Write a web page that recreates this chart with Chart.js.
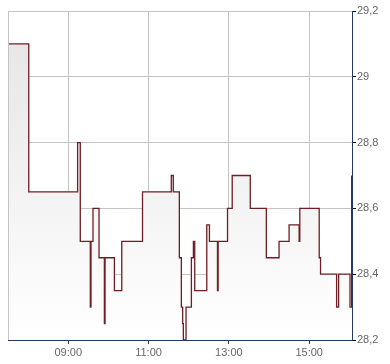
<!DOCTYPE html>
<html>
<head>
<meta charset="utf-8">
<script src="https://cdn.jsdelivr.net/npm/chart.js@4/dist/chart.umd.min.js"></script>
<style>
  html, body { margin: 0; padding: 0; background: #fff; }
  #wrap { width: 390px; height: 364px; }
</style>
</head>
<body>
<div id="wrap"><canvas id="price-chart"></canvas></div>
<script>
// Intraday quotes, time in minutes since midnight
const times = [450, 481, 554, 558, 573, 574, 577, 586, 594, 595, 609, 620, 651, 694, 697, 706, 709, 711, 712, 716,
    724, 727, 729, 747, 751, 763, 764, 778, 785, 812, 836, 855, 870, 885, 886, 915, 917, 941, 944, 961, 963.5];
const prices = [29.1, 28.65, 28.8, 28.5, 28.3, 28.5, 28.6, 28.45, 28.25, 28.45, 28.35, 28.5, 28.65, 28.7, 28.65, 28.45, 28.3, 28.25, 28.2, 28.3,
    28.45, 28.5, 28.35, 28.55, 28.5, 28.35, 28.5, 28.6, 28.7, 28.6, 28.45, 28.5, 28.55, 28.5, 28.6, 28.45, 28.4, 28.3, 28.4, 28.3, 28.7];
const tickTimes = [540, 660, 780, 900];
const tickLabels = ['09:00', '11:00', '13:00', '15:00'];
const yTicks = [28.2, 28.4, 28.6, 28.8, 29, 29.2];

const gridColor = '#c4c4c4';
const axisColor = '#1f3868';

// left edge of the plot area
const leftBorder = {
    id: 'leftBorder',
    afterDraw(chart) {
        const { ctx, chartArea } = chart;
        ctx.save();
        ctx.strokeStyle = gridColor;
        ctx.lineWidth = 1;
        ctx.beginPath();
        ctx.moveTo(chartArea.left + 0.5, chartArea.top);
        ctx.lineTo(chartArea.left + 0.5, chartArea.bottom);
        ctx.stroke();
        ctx.restore();
    }
};

Chart.defaults.font.family = '"Liberation Sans", Arial, sans-serif';
Chart.defaults.font.size = 11;
Chart.defaults.color = '#666';

const ctx = document.getElementById('price-chart').getContext('2d');
new Chart(ctx, {
    type: 'line',
    data: {
        datasets: [{
            data: times.map((t, i) => ({ x: t, y: prices[i] })),
            borderColor: '#6e1f25',
            borderWidth: 1.3,
            stepped: true,
            pointRadius: 0,
            fill: 'start',
            backgroundColor: (c) => {
                const area = c.chart.chartArea;
                if (!area) return '#eee';
                const g = c.chart.ctx.createLinearGradient(0, area.top, 0, area.bottom);
                g.addColorStop(0, '#e4e4e4');
                g.addColorStop(1, '#ffffff');
                return g;
            }
        }]
    },
    options: {
        responsive: true,
        maintainAspectRatio: false,
        animation: false,
        layout: { padding: { left: 8, top: 11 } },
        plugins: { legend: { display: false }, tooltip: { enabled: false } },
        scales: {
            x: {
                type: 'linear',
                min: 450,
                max: 964,
                afterBuildTicks: (s) => { s.ticks = tickTimes.map(v => ({ value: v })); },
                afterFit: (s) => { s.height = 24; },
                ticks: {
                    padding: 2,
                    maxRotation: 0,
                    callback: (v) => tickLabels[tickTimes.indexOf(v)]
                },
                grid: { color: gridColor, tickColor: '#333', tickLength: 4 },
                border: { color: axisColor, width: 1 }
            },
            y: {
                position: 'right',
                min: 28.2,
                max: 29.2,
                afterBuildTicks: (s) => { s.ticks = yTicks.map(v => ({ value: v })); },
                afterFit: (s) => { s.width = 38; },
                ticks: {
                    padding: 1,
                    callback: (v) => String(Number(v.toFixed(1))).replace('.', ',')
                },
                grid: { color: gridColor, tickColor: '#000', tickLength: 4 },
                border: { color: axisColor, width: 1 }
            }
        }
    },
    plugins: [leftBorder]
});
</script>
</body>
</html>
